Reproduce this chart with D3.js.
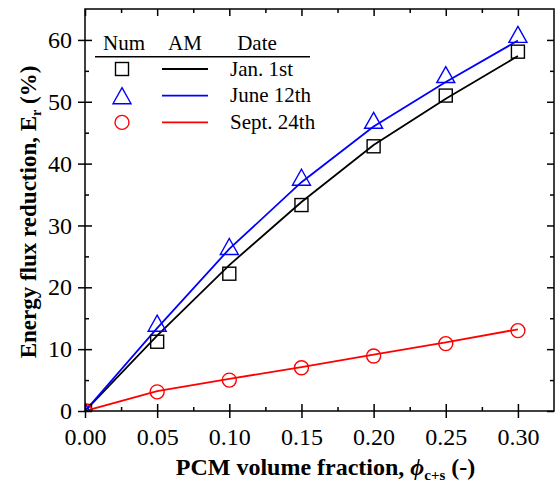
<!DOCTYPE html>
<html>
<head>
<meta charset="utf-8">
<script src="https://cdn.jsdelivr.net/npm/d3@7"></script>
<style>
  body { margin: 0; background: #fff; }
  svg text { font-family: "Liberation Serif", "Times New Roman", serif; }
</style>
</head>
<body>
<svg></svg>
<script>
const w = 560
const h = 488

// data
const fraction = [0, 0.05, 0.10, 0.15, 0.20, 0.25, 0.30]
const numJan = [0, 11.2, 22.2, 33.3, 42.8, 51.0, 58.1]
const numJune = [0, 14.2, 26.6, 37.8, 47.0, 54.4, 60.9]
const numSept = [0, 3.1, 5.0, 7.0, 8.9, 10.9, 13.0]
const amJan = [0, 12.2, 23.6, 33.8, 43.0, 50.5, 57.4]
const amJune = [0, 13.4, 26.2, 37.0, 46.0, 53.2, 59.9]
const amSept = [0, 3.2, 5.2, 7.1, 9.1, 11.1, 13.2]
const xTicks = [0, 0.05, 0.10, 0.15, 0.20, 0.25, 0.30]
const yTicks = [0, 10, 20, 30, 40, 50, 60]
const dates = ['Jan. 1st', 'June 12th', 'Sept. 24th']
const colors = ['#000', '#0000ff', '#ff0000']
const symbols = ['square', 'triangle', 'circle']

const svg = d3.select('svg')
  .attr('width', w)
  .attr('height', h);

const margin = {top: 9, right: 6, bottom: 77, left: 85};
const innerWidth = w - margin.left - margin.right;
const innerHeight = h - margin.top - margin.bottom;

const xScale = d3.scaleLinear()
  .domain([0, 0.325])
  .range([0, innerWidth])

const yScale = d3.scaleLinear()
  .domain([0, 65])
  .range([innerHeight, 0])

const g = svg.append('g')
  .attr('transform', `translate(${margin.left}, ${margin.top})`);

svg.append('defs').append('clipPath').attr('id', 'plot-clip')
  .append('rect')
  .attr('width', innerWidth)
  .attr('height', innerHeight)

const xMinor = d3.range(0.025, 0.325, 0.05)
const yMinor = d3.range(5, 65, 10)

const tickAxis = (axis, size, vals, fmt) => axis
  .tickValues(vals)
  .tickSize(size)
  .tickFormat(fmt || '')

const styleAxis = sel => {
  sel.attr('font-family', null).attr('font-size', null)
  sel.select('.domain').remove()
  sel.selectAll('line').attr('stroke', '#000').attr('stroke-width', 1.5)
  sel.selectAll('.tick text').filter(function () { return this.textContent === '' }).remove()
  sel.selectAll('.tick text')
    .attr('fill', '#000')
    .style('font-family', '"Liberation Serif", "Times New Roman", serif')
    .style('font-size', '24px')
}

// AM lines + Num markers, clipped to the plot frame
const plot = g.append('g').attr('clip-path', 'url(#plot-clip)')

const lineGen = d3.line()
  .x(d => xScale(d[0]))
  .y(d => yScale(d[1]))

const amSeries = [amJan, amJune, amSept]
amSeries.forEach((s, i) => {
  plot.append('path')
    .attr('d', lineGen(fraction.map((f, j) => [f, s[j]])))
    .attr('fill', 'none')
    .attr('stroke', colors[i])
    .attr('stroke-width', 1.8)
})

const drawMarker = (sel, type, color, cx, cy) => {
  if (type === 'square') {
    sel.append('rect')
      .attr('x', cx - 6.5).attr('y', cy - 6.5)
      .attr('width', 13).attr('height', 13)
      .attr('fill', 'none').attr('stroke', color).attr('stroke-width', 1.4)
  } else if (type === 'triangle') {
    sel.append('path')
      .attr('d', `M${cx},${cy - 8}L${cx + 9},${cy + 8}L${cx - 9},${cy + 8}Z`)
      .attr('fill', 'none').attr('stroke', color).attr('stroke-width', 1.4)
  } else {
    sel.append('circle')
      .attr('cx', cx).attr('cy', cy).attr('r', 7)
      .attr('fill', 'none').attr('stroke', color).attr('stroke-width', 1.4)
  }
}

const numSeries = [numJan, numJune, numSept]
numSeries.forEach((s, i) => {
  fraction.forEach((f, j) => {
    drawMarker(plot, symbols[i], colors[i], xScale(f), yScale(s[j]))
  })
})

// frame
g.append('rect')
  .attr('width', innerWidth)
  .attr('height', innerHeight)
  .attr('fill', 'none')
  .attr('stroke', '#000')
  .attr('stroke-width', 1.5)

// bottom: labels + outward majors, inward majors/minors
g.append('g').attr('transform', `translate(0, ${innerHeight})`)
  .call(tickAxis(d3.axisBottom(xScale), 7, xTicks, d3.format('.2f')).tickPadding(10))
  .call(styleAxis)
g.append('g').attr('transform', `translate(0, ${innerHeight})`)
  .call(tickAxis(d3.axisBottom(xScale), -7, xTicks)).call(styleAxis)
g.append('g').attr('transform', `translate(0, ${innerHeight})`)
  .call(tickAxis(d3.axisBottom(xScale), -4, xMinor)).call(styleAxis)
// top
g.append('g').call(tickAxis(d3.axisTop(xScale), -7, xTicks)).call(styleAxis)
g.append('g').call(tickAxis(d3.axisTop(xScale), -4, xMinor)).call(styleAxis)

// left
g.append('g')
  .call(tickAxis(d3.axisLeft(yScale), 7, yTicks, d3.format('d')).tickPadding(6))
  .call(styleAxis)
g.append('g').call(tickAxis(d3.axisLeft(yScale), -7, yTicks)).call(styleAxis)
g.append('g').call(tickAxis(d3.axisLeft(yScale), -4, yMinor)).call(styleAxis)
// right
g.append('g').attr('transform', `translate(${innerWidth}, 0)`)
  .call(tickAxis(d3.axisRight(yScale), -7, yTicks)).call(styleAxis)
g.append('g').attr('transform', `translate(${innerWidth}, 0)`)
  .call(tickAxis(d3.axisRight(yScale), -4, yMinor)).call(styleAxis)

// legend
const leg = svg.append('g')
leg.append('line')
  .attr('x1', 95).attr('x2', 310)
  .attr('y1', 56.7).attr('y2', 56.7)
  .attr('stroke', '#000').attr('stroke-width', 1.5)
const headers = [['Num', 124], ['AM', 185], ['Date', 257]]
headers.forEach(([t, x]) => {
  leg.append('text')
    .attr('x', x).attr('y', 50)
    .attr('text-anchor', 'middle')
    .style('font-size', '21px')
    .text(t)
})
dates.forEach((d, i) => {
  const cy = 69 + i * 26.7
  drawMarker(leg, symbols[i], colors[i], 122, cy)
  leg.append('line')
    .attr('x1', 162).attr('x2', 208)
    .attr('y1', cy).attr('y2', cy)
    .attr('stroke', colors[i]).attr('stroke-width', 1.8)
  leg.append('text')
    .attr('x', 230).attr('y', cy + 6.5)
    .style('font-size', '21px')
    .text(d)
})

// axis titles
const xTitle = svg.append('text')
  .attr('x', margin.left + innerWidth / 2 + 6)
  .attr('y', 475)
  .attr('text-anchor', 'middle')
  .style('font-size', '24px')
  .style('font-weight', 'bold')
xTitle.append('tspan').text('PCM volume fraction, ')
xTitle.append('tspan').style('font-style', 'italic').text('\u03D5')
xTitle.append('tspan').attr('dy', 5).style('font-size', '15px').text('c+s')
xTitle.append('tspan').attr('dy', -5).text(' (-)')

const yTitle = svg.append('text')
  .attr('transform', `translate(36, 212) rotate(-90)`)
  .attr('text-anchor', 'middle')
  .style('font-size', '23px')
  .style('font-weight', 'bold')
yTitle.append('tspan').text('Energy flux reduction, E')
yTitle.append('tspan').attr('dy', 5).style('font-size', '14px').text('r')
yTitle.append('tspan').attr('dy', -5).text(' (%)')
</script>
</body>
</html>
